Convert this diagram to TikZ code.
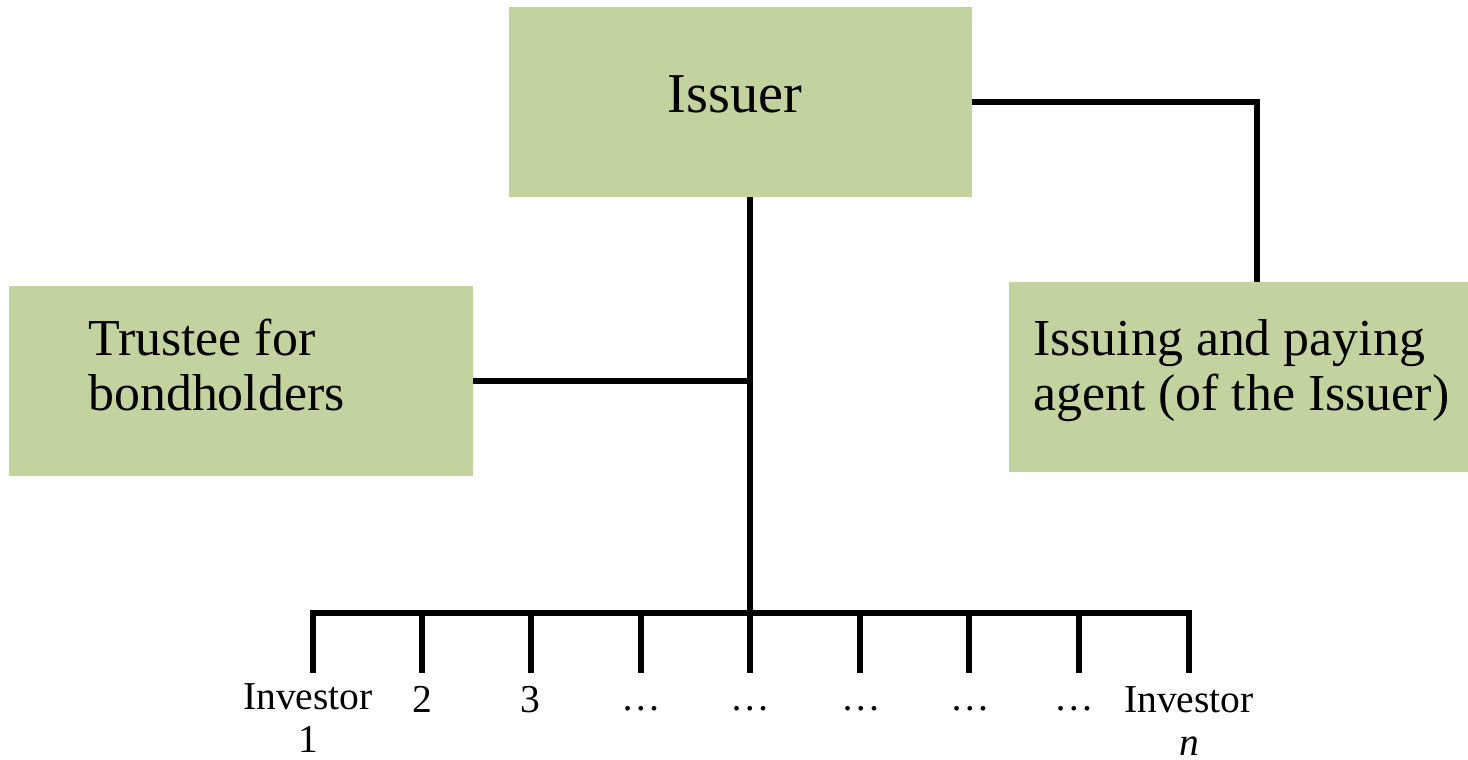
\documentclass[tikz,border=0pt]{standalone}
\usepackage{fontspec}
\setmainfont{Liberation Serif}
\usetikzlibrary{calc}
\definecolor{boxgreen}{RGB}{195,211,160}
\tikzset{
  box/.style={fill=boxgreen, inner sep=0pt, minimum height=3.8cm},
  boxtext/.style={inner sep=0pt, anchor=base west, align=left, font=\fontsize{29.5}{31}\selectfont},
  invtext/.style={inner sep=0pt, anchor=base, align=center, font=\fontsize{22.5}{24}\selectfont},
  link/.style={line width=3pt},
}

\begin{document}
\begin{tikzpicture}[x=0.02cm,y=-0.02cm]
  \useasboundingbox (0,0) rectangle (1468,760);
  \node[box,minimum width=9.26cm] (issuer) at (740.5,102) {};
  \node[box,minimum width=9.28cm] (trustee) at (241,381) {};
  \node[box,minimum width=9.18cm] (agent) at (1238.5,377) {};
  \node[anchor=base,inner sep=0pt,font=\fontsize{32}{36}\selectfont] (issuertext) at (735,113) {Issuer};
  \node[boxtext] (trusteetext) at (88,410) {Trustee for\\bondholders};
  \node[boxtext] (agenttext) at (1033,410) {Issuing and paying\\agent (of the Issuer)};
  \coordinate (hub) at (750,613);
  \draw[link] (issuer.south -| hub) -- (hub);
  \draw[link] (trustee.east) -- (trustee.east -| hub);
  \draw[link] (issuer.east) -| ([xshift=0.37cm]agent.north);
  \foreach \x/\lx/\ly/\lab [count=\i] in {313/308/752/{Investor\\1}, 422/422/712/2,
      531/530/712/3, 641/641/710/…, 750/750/710/…, 860/861/710/…, 969/970/710/…,
      1079/1074/710/…, 1189/1189/755/{Investor\\\textit{n}}} {
    \coordinate (top\i) at (\x,613);
    \coordinate (end\i) at (\x,673);
    \node[invtext] (inv\i) at (\lx,\ly) {\lab};
  }
  \draw[link] (end1) -- (top1) -- (top9) -- (end9);
  \foreach \i in {2,...,8}
    \draw[link] (top\i) -- (end\i);
\end{tikzpicture}
\end{document}
